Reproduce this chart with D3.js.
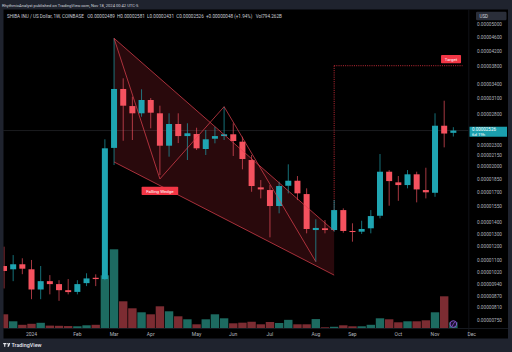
<!DOCTYPE html>
<html><head><meta charset="utf-8">
<script src="https://cdn.jsdelivr.net/npm/d3@7"></script>
<style>html,body{margin:0;padding:0;background:#1f232e;}svg{display:block;font-family:Roboto,"Noto Sans",sans-serif;}</style>
</head><body><svg id="c" width="512" height="352"></svg>
<script>
// ---------- data (weekly candles, SHIB/USD, Coinbase) ----------
const weeks = ["2023-12-11","2023-12-18","2023-12-25","2024-01-01","2024-01-08","2024-01-15","2024-01-22","2024-01-29",
"2024-02-05","2024-02-12","2024-02-19","2024-02-26","2024-03-04","2024-03-11","2024-03-18","2024-03-25",
"2024-04-01","2024-04-08","2024-04-15","2024-04-22","2024-04-29","2024-05-06","2024-05-13","2024-05-20","2024-05-27",
"2024-06-03","2024-06-10","2024-06-17","2024-06-24","2024-07-01","2024-07-08","2024-07-15","2024-07-22","2024-07-29",
"2024-08-05","2024-08-12","2024-08-19","2024-08-26","2024-09-02","2024-09-09","2024-09-16","2024-09-23","2024-09-30",
"2024-10-07","2024-10-14","2024-10-21","2024-10-28","2024-11-04","2024-11-11","2024-11-18"];
const open  = [10.60,10.38,10.72,10.38,9.12,9.62,9.44,9.08,8.98,9.50,9.83,9.75,22.60,32.97,29.55,28.21,30.72,28.21,22.92,26.34,24.38,24.70,22.44,23.97,24.38,24.66,23.52,20.91,17.55,17.25,15.57,17.73,18.31,16.81,13.35,13.50,13.35,15.17,13.27,13.21,13.50,14.63,19.40,18.12,17.81,19.08,17.25,16.95,26.05,24.89];
const high  = [12.00,11.37,11.14,11.02,10.60,10.00,9.68,9.75,9.68,10.12,10.05,23.88,45.62,35.30,31.38,32.90,31.10,29.62,28.21,28.21,26.46,25.72,25.34,25.88,29.43,26.46,24.28,21.59,18.39,17.81,18.19,20.34,18.87,17.44,14.30,14.23,16.18,15.34,13.94,14.17,15.17,21.73,19.60,18.87,19.61,19.40,19.90,28.21,30.58,25.81];
const low   = [9.18,9.62,10.06,8.57,8.57,8.84,8.48,8.84,8.84,9.32,9.32,9.68,20.25,23.66,23.77,27.60,25.62,18.99,21.36,23.31,20.91,22.30,21.59,23.27,23.77,21.46,19.70,17.06,16.35,12.74,14.86,16.89,16.18,13.07,10.90,13.07,13.21,13.12,12.39,13.02,13.07,14.39,15.60,16.10,17.44,15.94,16.35,16.52,22.68,24.31];
const close = [10.27,10.72,10.42,9.12,9.62,9.44,9.08,8.97,9.44,9.79,9.75,22.54,32.97,29.62,28.21,30.72,28.32,22.92,26.34,24.38,24.82,22.54,23.88,24.38,24.66,23.62,21.05,17.70,17.32,15.57,17.70,18.31,16.89,13.44,13.53,13.35,15.17,13.27,13.18,13.44,14.60,19.40,18.27,17.81,19.08,17.32,17.00,26.05,24.78,25.26];
const volumeB = [1820,910,455,585,715,350,325,290,260,390,455,6890,10270,3510,2600,2080,1820,2860,2210,1560,1170,520,1170,1820,1300,650,730,850,520,820,690,1100,520,520,1200,130,200,390,260,260,455,1300,1170,780,910,910,1040,2080,4160,794.262];
const priceUnit = 1e-6;

const priceTicks = [0.00005,0.000046,0.000042,0.000038,0.000034,0.000031,0.000028,0.000023,0.0000215,0.00002,0.0000185,0.000017,0.0000155,0.000014,0.000013,0.000012,0.000011,0.0000102,0.0000094,0.0000087,0.0000081,0.0000075];
const timeTicks = ["2024-01-01","2024-02-05","2024-03-04","2024-04-01","2024-05-06","2024-06-03","2024-07-01","2024-08-05","2024-09-02","2024-10-07","2024-11-04","2024-12-02"];
const timeLabels = ["2024","Feb","Mar","Apr","May","Jun","Jul","Aug","Sep","Oct","Nov","Dec"];

const wedgeZigzag = [["2024-03-04",45.62e-6],["2024-04-08",18.52e-6],["2024-05-27",29.43e-6],["2024-08-05",10.90e-6]];
const wedgeUpper  = [["2024-03-04",45.62e-6],["2024-08-19",13.27e-6]];
const wedgeLower  = [["2024-03-04",20.65e-6],["2024-08-19",10.00e-6]];
const targetPrice = 38.27e-6, targetFrom = "2024-08-19", targetTo = "2024-11-25";
const lastPrice = 0.00002526;

// ---------- scales ----------
const parse = d3.utcParse("%Y-%m-%d");
const x = d3.scaleUtc().domain([parse("2023-12-11"), parse("2024-12-02")]).range([4, 471.7]);
const y = d3.scaleLog().domain([7.5e-6, 5e-5]).range([320, 24]);
const yv = d3.scaleLinear().domain([0, 13000]).range([328.3, 228.3]);

const UP = "#1fa5b2", DN = "#f5525f", UPV = "#1d6b61", DNV = "#7c2c32";
const candles = weeks.map((w,i)=>({d:parse(w),o:open[i]*priceUnit,h:high[i]*priceUnit,l:low[i]*priceUnit,c:close[i]*priceUnit,v:volumeB[i]}));

const svg = d3.select("#c");
svg.append("rect").attr("width",512).attr("height",352).attr("fill","#1f232e");
svg.append("rect").attr("x",3.5).attr("y",9.5).attr("width",504.5).attr("height",329).attr("fill","#000");

const defs = svg.append("defs");
defs.append("clipPath").attr("id","pane").append("rect").attr("x",3.5).attr("y",9.5).attr("width",465).attr("height",318.8);
const pane = svg.append("g").attr("clip-path","url(#pane)");

// separators
svg.append("line").attr("x1",3.5).attr("x2",508).attr("y1",328.5).attr("y2",328.5).attr("stroke","#1c1f27").attr("stroke-width",0.8);
svg.append("line").attr("x1",468.8).attr("x2",468.8).attr("y1",9.5).attr("y2",338).attr("stroke","#15171d").attr("stroke-width",0.8);

// current price line
pane.append("line").attr("x1",3.5).attr("x2",469).attr("y1",y(lastPrice)).attr("y2",y(lastPrice))
  .attr("stroke","#4a4e58").attr("stroke-width",0.7).attr("stroke-dasharray","1,1");

// wedge fill
const pt = p=>[x(parse(p[0])), y(p[1])];
const poly = [pt(wedgeUpper[0]), pt(wedgeUpper[1]), pt(wedgeLower[1]), pt(wedgeLower[0])];
pane.append("path").attr("d", d3.line()(poly)+"Z").attr("fill","rgba(242,54,69,0.17)");

// target dotted lines
const tx0 = x(parse(targetFrom)), tx1 = x(parse(targetTo)), ty = y(targetPrice);
pane.append("line").attr("x1",tx0).attr("x2",tx0).attr("y1",ty).attr("y2",y(wedgeUpper[1][1]))
  .attr("stroke","#f23645").attr("stroke-width",0.8).attr("stroke-dasharray","1,1.2");
pane.append("line").attr("x1",tx0).attr("x2",tx1).attr("y1",ty).attr("y2",ty)
  .attr("stroke","#f23645").attr("stroke-width",0.8).attr("stroke-dasharray","1,1.2");

// volume
const bw = 8.4;
pane.selectAll("rect.vol").data(candles).join("rect").attr("class","vol")
  .attr("x",d=>x(d.d)-bw/2).attr("width",bw)
  .attr("y",d=>yv(d.v)).attr("height",d=>yv(0)-yv(d.v))
  .attr("fill",d=>d.c>=d.o?UPV:DNV);

// candles
const cg = pane.append("g");
cg.selectAll("line").data(candles).join("line")
  .attr("x1",d=>x(d.d)).attr("x2",d=>x(d.d)).attr("y1",d=>y(d.h)).attr("y2",d=>y(d.l))
  .attr("stroke",d=>d.c>=d.o?UP:DN).attr("stroke-width",0.9).attr("stroke-opacity",0.75);
cg.selectAll("rect").data(candles).join("rect")
  .attr("x",d=>x(d.d)-3).attr("width",6)
  .attr("y",d=>y(Math.max(d.o,d.c)))
  .attr("height",d=>Math.max(1,Math.abs(y(d.o)-y(d.c))))
  .attr("fill",d=>d.c>=d.o?UP:DN);

// wedge lines
const lineStyle = s=>s.attr("fill","none").attr("stroke","#e0414f").attr("stroke-width",0.8).attr("stroke-opacity",0.9);
pane.append("path").attr("d",d3.line()(wedgeZigzag.map(pt))).call(lineStyle);
pane.append("path").attr("d",d3.line()(wedgeUpper.map(pt))).call(lineStyle);
pane.append("path").attr("d",d3.line()(wedgeLower.map(pt))).call(lineStyle);

// labels on chart
const bx = x(parse("2024-04-08"));
svg.append("rect").attr("x",bx-18.3).attr("y",186.7).attr("width",36.6).attr("height",8.3).attr("rx",0.8).attr("fill","#f23645");
svg.append("text").attr("x",bx).attr("y",191).attr("text-anchor","middle").attr("dominant-baseline","central")
  .attr("font-size",4.4).attr("fill","#fff").text("Falling Wedge");
svg.append("rect").attr("x",tx1-21.5).attr("y",ty-10.7).attr("width",20).attr("height",8.3).attr("rx",0.8).attr("fill","#f23645");
svg.append("text").attr("x",tx1-11.5).attr("y",ty-6.5).attr("text-anchor","middle").attr("dominant-baseline","central")
  .attr("font-size",4.4).attr("fill","#fff").text("Target");

// event icon
const ex = x(parse("2024-11-18"));
svg.append("circle").attr("cx",ex).attr("cy",324).attr("r",3.3).attr("fill","#1b1030").attr("stroke","#8d5ad6").attr("stroke-width",0.9);
svg.append("path").attr("d",`M${ex+1.3},${322} L${ex-1.3},${326}`).attr("stroke","#8d5ad6").attr("stroke-width",0.8);

// price axis
const fmt = d3.format(".8f");
svg.selectAll("text.pt").data(priceTicks).join("text").attr("class","pt")
  .attr("x",477).attr("y",d=>y(d)).attr("dominant-baseline","central")
  .attr("font-size",4.7).attr("fill","#b2b5be").text(d=>fmt(d));
svg.append("rect").attr("x",476).attr("y",11.8).attr("width",30.5).attr("height",8.5).attr("rx",1.2).attr("fill","#2a2e39");
svg.append("text").attr("x",479.5).attr("y",16.2).attr("dominant-baseline","central").attr("font-size",4.5).attr("fill","#d1d4dc").text("USD");
const ly = y(lastPrice);
svg.append("rect").attr("x",469.5).attr("y",ly-3.8).attr("width",37.5).attr("height",10).attr("fill","#1b9fae");
svg.append("text").attr("x",472).attr("y",ly-0.6).attr("dominant-baseline","central").attr("font-size",4.5).attr("fill","#fff").text(fmt(lastPrice));
svg.append("text").attr("x",472).attr("y",ly+3.6).attr("dominant-baseline","central").attr("font-size",4.3).attr("fill","#fff").text("6d 19h");

// time axis
svg.selectAll("text.tt").data(timeTicks).join("text").attr("class","tt")
  .attr("x",d=>x(parse(d))).attr("y",333.8).attr("text-anchor","middle").attr("dominant-baseline","central")
  .attr("font-size",5).attr("fill","#b2b5be").text((d,i)=>timeLabels[i]);

// headers
svg.append("text").attr("x",2).attr("y",5.3).attr("dominant-baseline","central").attr("font-size",4.1).attr("fill","#d1d4dc")
  .text("RhythmicAnalyst published on TradingView.com, Nov 18, 2024 00:42 UTC-5");
const hd = svg.append("text").attr("x",7).attr("y",16.3).attr("dominant-baseline","central").attr("font-size",4.6).attr("fill","#c9ccd4").attr("xml:space","preserve");
hd.text("SHIBA INU / US Dollar, 1W, COINBASE   O0.00002489  H0.00002581  L0.00002431  C0.00002526  +0.00000048 (+1.94%)   Vol794.262B");

// footer logo
const lg = svg.append("g").attr("fill","#e6e8ee");
lg.append("rect").attr("x",3.2).attr("y",343).attr("width",3).attr("height",1.2);
lg.append("rect").attr("x",4.2).attr("y",343).attr("width",1.1).attr("height",3.8);
lg.append("circle").attr("cx",7.2).attr("cy",343.7).attr("r",0.7);
lg.append("path").attr("d","M8.6,343 L10.3,343 L8.9,346.8 L7.4,346.8 Z");
svg.append("text").attr("x",11.5).attr("y",345).attr("dominant-baseline","central").attr("font-size",5.4).attr("font-weight",500).attr("fill","#e6e8ee").text("TradingView");
</script></body></html>
